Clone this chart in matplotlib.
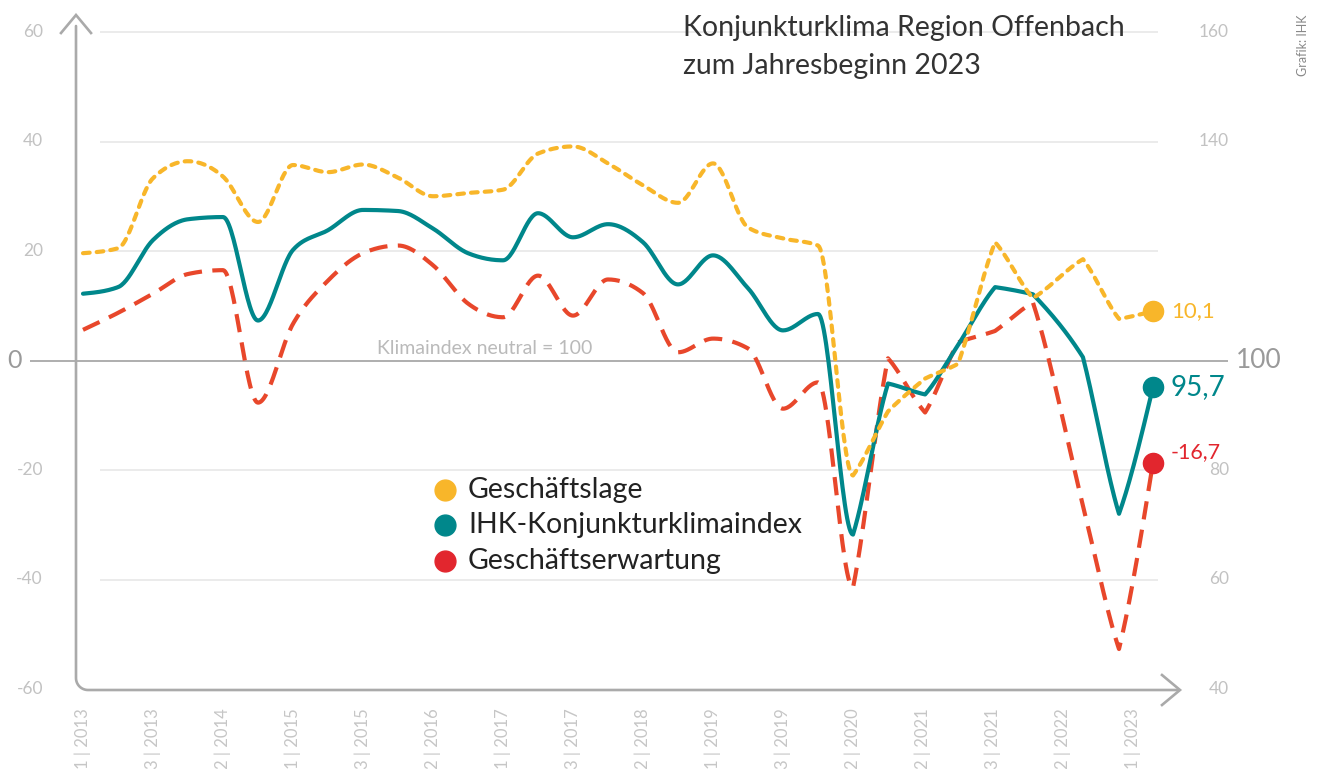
import numpy as np
import matplotlib.pyplot as plt

plt.rcParams['font.family'] = ['Lato', 'DejaVu Sans']

# survey positions on the time axis (in survey steps, 0 = 1|2013)
x_pos = [0, 1, 2, 3, 4, 5, 6, 7, 8, 9, 10, 11, 12, 13, 14, 15, 16, 17, 18, 19,
         20, 21, 22, 23.0, 24.06, 25.0, 26.06, 27.14, 28.57, 29.6, 30.57]

lage = [19.6, 20.5, 33.3, 36.4, 33.6, 25.3, 35.7, 34.4, 35.8, 33.4, 30.0, 30.6,
        31.2, 37.8, 39.1, 36.0, 32.0, 28.8, 36.0, 24.3, 22.3, 21.0, -21.0,
        -9.3, -3.3, -0.6, 21.6, 11.4, 18.5, 7.6, 9.0]
klima = [12.2, 13.4, 22.0, 25.8, 26.2, 7.3, 20.2, 23.8, 27.5, 27.3, 24.1, 19.6,
         18.3, 26.9, 22.5, 24.9, 21.6, 13.9, 19.2, 13.2, 5.5, 8.5, -31.8,
         -4.2, -6.2, 2.8, 13.4, 12.1, 0.6, -28.0, -4.9]
erwartung = [5.6, 8.7, 12.2, 15.8, 16.5, -7.7, 6.7, 14.6, 19.6, 21.0, 17.4, 10.4,
             7.9, 15.5, 8.2, 14.8, 12.3, 1.5, 4.0, 2.2, -8.8, -4.0, -41.5,
             0.4, -9.5, 3.3, 5.4, 10.6, -26.5, -52.7, -18.7]
end_labels = ['10,1', '95,7', '-16,7']

x_labels = ['1 | 2013', '3 | 2013', '2 | 2014', '1 | 2015', '3 | 2015', '2 | 2016',
            '1 | 2017', '3 | 2017', '2 | 2018', '1 | 2019', '3 | 2019', '2 | 2020',
            '2 | 2021', '3 | 2021', '2 | 2022', '1 | 2023']
left_ticks = [60, 40, 20, -20, -40, -60]
grid_vals = [60, 40, 20, -20, -40]
right_ticks = [60, 40, -20, -40, -60]   # shown as +100

legend_names = ['Geschäftslage', 'IHK-Konjunkturklimaindex', 'Geschäftserwartung']

c_lage = '#f8b62a'
c_klima = '#00878b'
c_erw = '#e8472b'
c_erw_dot = '#e2262e'
c_axis = '#aaaaaa'


def px_x(px):
    return (px - 83) / 35.0


def px_y(py):
    return (360.5 - py) / 5.475


def monotone(x, y, n=30, soft_until=22, late_k=0.25):
    # monotone cubic interpolation (like d3 curveMonotoneX),
    # the later part of the chart is drawn almost straight
    x = np.asarray(x, float)
    y = np.asarray(y, float)
    h = np.diff(x)
    s = np.diff(y) / h
    t = np.zeros(len(x))
    for i in range(1, len(x) - 1):
        if s[i - 1] * s[i] > 0:
            p = (s[i - 1] * h[i] + s[i] * h[i - 1]) / (h[i - 1] + h[i])
            t[i] = np.sign(s[i]) * min(abs(s[i - 1]), abs(s[i]), 0.5 * abs(p)) * 2
    t[0] = (3 * s[0] - t[1]) / 2
    t[-1] = (3 * s[-1] - t[-2]) / 2
    xs, ys = [], []
    for i in range(len(x) - 1):
        u = np.linspace(0, 1, n, endpoint=False)
        h00 = 2 * u**3 - 3 * u**2 + 1
        h10 = u**3 - 2 * u**2 + u
        h01 = -2 * u**3 + 3 * u**2
        h11 = u**3 - u**2
        t0, t1 = t[i], t[i + 1]
        if i >= soft_until:
            t0 = late_k * t0 + (1 - late_k) * s[i]
            t1 = late_k * t1 + (1 - late_k) * s[i]
        xs.append(x[i] + u * h[i])
        ys.append(h00 * y[i] + h10 * h[i] * t0 + h01 * y[i + 1] + h11 * h[i] * t1)
    xs.append([x[-1]])
    ys.append([y[-1]])
    return np.concatenate(xs), np.concatenate(ys)


fig = plt.figure(figsize=(13.17, 7.69), dpi=100)
ax = fig.add_axes([0, 0, 1, 1])
ax.axis('off')
ax.set_xlim(px_x(0), px_x(1317))
ax.set_ylim(px_y(769), px_y(0))

# grid and zero line
ax.hlines(grid_vals, px_x(100), px_x(1158), color='#e8e8e8', lw=1.2, zorder=1)
ax.hlines(0, px_x(30), px_x(1228), color='#a8a8a8', lw=1.3, zorder=1)

# axis with rounded corner and arrows
r = 12
ang = np.linspace(np.pi, 1.5 * np.pi, 20)
corner_x = 76 + r + r * np.cos(ang)
corner_y = 690 - r - r * np.sin(ang)
path_x = np.concatenate([[76], corner_x, [1178]])
path_y = np.concatenate([[26], corner_y, [690]])
ax.plot(px_x(path_x), px_y(path_y), color=c_axis, lw=1.9, solid_capstyle='round', zorder=2)
ax.plot(px_x(np.array([61, 76, 91])), px_y(np.array([33, 15, 33])), color=c_axis, lw=1.9,
        solid_joinstyle='miter', zorder=2)
ax.plot(px_x(np.array([1162, 1180, 1162])), px_y(np.array([675, 690, 705])), color=c_axis, lw=1.9,
        solid_joinstyle='miter', zorder=2)

# tick labels
for v in left_ticks:
    ax.text(px_x(43), v, str(v), ha='right', va='center', color='#c2c2c2', fontsize=12.5)
for v in right_ticks:
    ax.text(px_x(1229), v, str(v + 100), ha='right', va='center', color='#c2c2c2', fontsize=12.5)
ax.text(px_x(7), 0, '0', ha='left', va='center', color='#9a9a9a', fontsize=18)
ax.text(px_x(1236), 0, '100', ha='left', va='center', color='#9a9a9a', fontsize=19)
ax.text(px_x(377), 0.6, 'Klimaindex neutral = 100', ha='left', va='bottom',
        color='#bababa', fontsize=14)

for i, lab in enumerate(x_labels):
    ax.text(2 * i, px_y(708), lab, rotation=90, ha='center', va='top',
            color='#c6c6c6', fontsize=12)

# series
xe, ye = monotone(x_pos, erwartung)
ax.plot(xe, ye, color=c_erw, lw=3.0, dashes=(4.4, 2.5), dash_capstyle='butt', zorder=3)
xk, yk = monotone(x_pos, klima)
ax.plot(xk, yk, color=c_klima, lw=3.0, solid_capstyle='round', zorder=4)
xl, yl = monotone(x_pos, lage)
ax.plot(xl, yl, color=c_lage, lw=3.0, dashes=(1.6, 1.7), dash_capstyle='round', zorder=5)

# end points
ax.plot(x_pos[-1], lage[-1], 'o', ms=14.5, color=c_lage, zorder=6)
ax.plot(x_pos[-1], klima[-1], 'o', ms=14.5, color=c_klima, zorder=6)
ax.plot(x_pos[-1], erwartung[-1], 'o', ms=14.5, color=c_erw_dot, zorder=6)
ax.text(px_x(1171), lage[-1], end_labels[0], ha='left', va='center', color=c_lage, fontsize=16)
ax.text(px_x(1171), klima[-1], end_labels[1], ha='left', va='center', color=c_klima, fontsize=20)
ax.text(px_x(1171), erwartung[-1] + 2.0, end_labels[2], ha='left', va='center',
        color=c_erw_dot, fontsize=15.5)

# legend
leg_cols = [c_lage, c_klima, c_erw_dot]
leg_rows = [490, 525, 561]
for name, col, row in zip(legend_names, leg_cols, leg_rows):
    ax.plot(px_x(445), px_y(row), 'o', ms=15, color=col, zorder=6)
    ax.text(px_x(468), px_y(row), name, ha='left', va='center', color='#222222', fontsize=20.5)

# title and source
ax.text(px_x(683), px_y(15), 'Konjunkturklima Region Offenbach\nzum Jahresbeginn 2023',
        ha='left', va='top', color='#333333', fontsize=20.5, linespacing=1.56)
ax.text(px_x(1303), px_y(14), 'Grafik: IHK', rotation=90, ha='center', va='top',
        color='#888888', fontsize=9)

fig.savefig('out.png', dpi=100)
